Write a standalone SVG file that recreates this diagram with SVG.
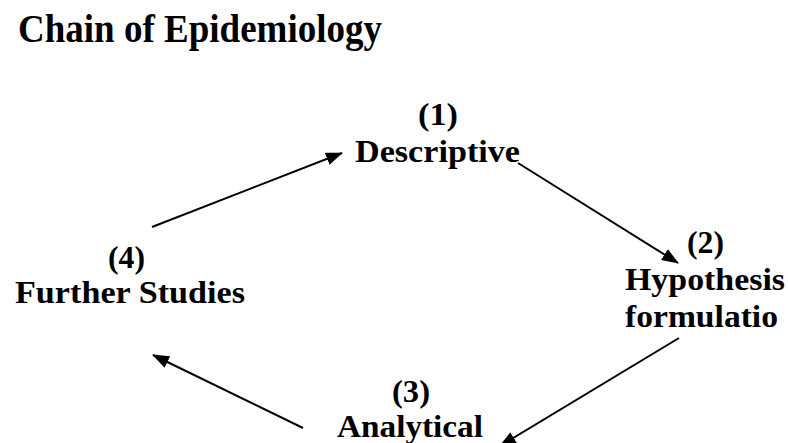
<svg xmlns="http://www.w3.org/2000/svg" width="788" height="443" viewBox="0 0 788 443">
<style>
text { font-family: "Liberation Serif", "Times New Roman", serif; font-weight: bold; fill: #000; }
.title { font-size: 40px; }
.lbl { font-size: 31px; }
.conn line { stroke: #000; stroke-width: 2; fill: none; }
</style>
<defs>
<marker id="ah" markerUnits="userSpaceOnUse" markerWidth="17" markerHeight="13" refX="16" refY="6.5" orient="auto">
<path d="M0,0 L17,6.5 L0,13 Z" fill="#000"/>
</marker>
</defs>
<rect width="788" height="443" fill="#fff"/>
<text class="title" x="18" y="42" textLength="364" lengthAdjust="spacingAndGlyphs">Chain of Epidemiology</text>
<g id="node1">
<text class="lbl" x="418" y="125" textLength="40" lengthAdjust="spacingAndGlyphs">(1)</text>
<text class="lbl" x="355" y="162" textLength="165" lengthAdjust="spacingAndGlyphs">Descriptive</text>
</g>
<g id="node2">
<text class="lbl" x="687" y="253" textLength="37" lengthAdjust="spacingAndGlyphs">(2)</text>
<text class="lbl" x="625" y="290" textLength="160" lengthAdjust="spacingAndGlyphs">Hypothesis</text>
<text class="lbl" x="625" y="327" textLength="153" lengthAdjust="spacingAndGlyphs">formulatio</text>
</g>
<g id="node3">
<text class="lbl" x="392" y="402" textLength="38" lengthAdjust="spacingAndGlyphs">(3)</text>
<text class="lbl" x="337" y="437" textLength="146" lengthAdjust="spacingAndGlyphs">Analytical</text>
</g>
<g id="node4">
<text class="lbl" x="108" y="268" textLength="37" lengthAdjust="spacingAndGlyphs">(4)</text>
<text class="lbl" x="15" y="303" textLength="230" lengthAdjust="spacingAndGlyphs">Further Studies</text>
</g>
<g class="conn" id="connectors">
<line x1="152" y1="227" x2="342" y2="153" marker-end="url(#ah)"/>
<line x1="518" y1="163" x2="678" y2="263" marker-end="url(#ah)"/>
<line x1="679" y1="338" x2="500" y2="446" marker-end="url(#ah)"/>
<line x1="303" y1="428" x2="153" y2="355" marker-end="url(#ah)"/>
</g>
</svg>
